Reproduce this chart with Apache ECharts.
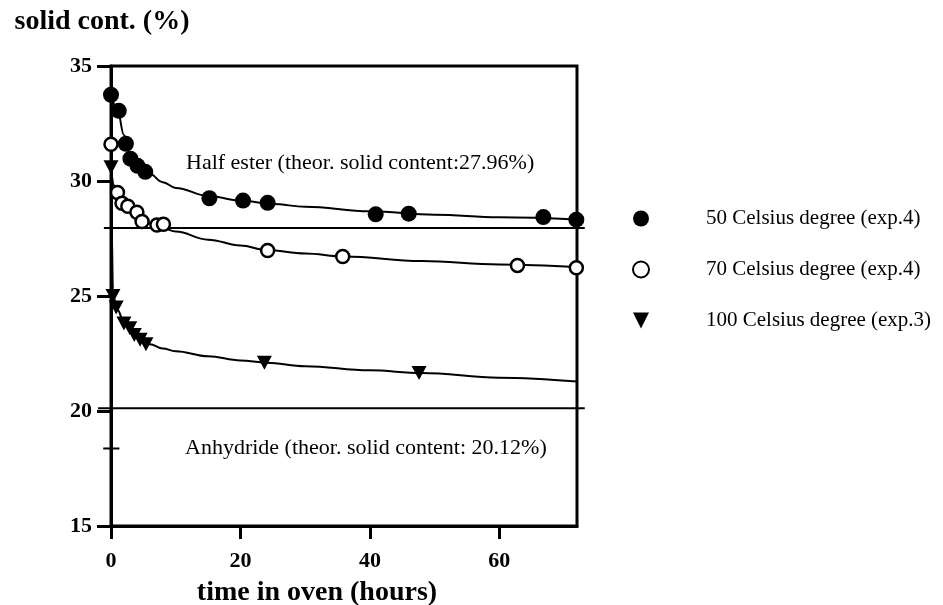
<!DOCTYPE html>
<html><head><meta charset="utf-8">
<script src="https://cdn.jsdelivr.net/npm/echarts@6/dist/echarts.min.js"></script>
<style>html,body{margin:0;padding:0;background:#fff}#c{width:943px;height:605px}</style>
</head><body><div id="c"></div>
<script>
// ---- data ----
const xTicks = [0, 20, 40, 60];
const yTicks = [15, 20, 25, 30, 35];

const t50 = [0, 1.2, 2.3, 3.0, 4.1, 5.3, 15.2, 20.4, 24.2, 40.9, 46.0, 66.8, 71.9];
const v50 = [33.75, 33.05, 31.62, 30.97, 30.66, 30.4, 29.25, 29.15, 29.05, 28.55, 28.58, 28.43, 28.32];

const t70 = [0, 1.0, 1.7, 2.6, 4.0, 4.8, 7.1, 8.1, 24.2, 35.8, 62.8, 71.9];
const v70 = [31.6, 29.5, 29.03, 28.9, 28.64, 28.24, 28.09, 28.12, 26.98, 26.72, 26.33, 26.23];

const t100 = [0, 0.3, 0.8, 2.0, 2.9, 3.6, 4.5, 5.4, 23.7, 47.6];
const v100 = [30.6, 25.0, 24.5, 23.8, 23.6, 23.3, 23.1, 22.9, 22.1, 21.65];

// fitted curves as drawn in the reference
const fit50x = [0, 1, 2, 3, 4, 5, 6, 8, 10, 15, 20, 25, 30, 40, 50, 60, 72];
const fit50y = [33.8, 33.1, 32.0, 31.1, 30.7, 30.45, 30.3, 29.95, 29.7, 29.35, 29.15, 29.0, 28.88, 28.68, 28.53, 28.42, 28.32];
const fit70x = [0.1, 0.5, 1, 2, 3, 4, 5, 6, 8, 10, 15, 20, 24, 30, 36, 48, 60, 72];
const fit70y = [30.3, 29.8, 29.45, 29.0, 28.75, 28.5, 28.3, 28.15, 27.95, 27.8, 27.45, 27.2, 27.0, 26.85, 26.72, 26.52, 26.37, 26.25];
const fit100x = [0, 0.1, 0.3, 0.6, 1, 2, 3, 4, 5, 6, 8, 10, 15, 20, 24, 30, 40, 48, 60, 72];
const fit100y = [30.6, 28, 25.3, 24.8, 24.4, 23.85, 23.5, 23.25, 23.05, 22.9, 22.72, 22.6, 22.38, 22.2, 22.1, 21.95, 21.77, 21.65, 21.45, 21.28];

// theoretical solid contents: [x start, x end, level]
const halfEsterLine = [-1.1, 73.2, 27.96];
const anhydrideLine = [-2.0, 73.2, 20.12];
const stubLine = [-1.2, 1.3, 18.37];

const names = ['50 Celsius degree (exp.4)', '70 Celsius degree (exp.4)', '100 Celsius degree (exp.3)'];
const notes = ['Half ester (theor. solid content:27.96%)', 'Anhydride (theor. solid content: 20.12%)'];

// ---- build ----
const zip = (a, b) => a.map((x, i) => [x, b[i]]);
const serif = 'Liberation Serif';
const tri = 'path://M0,0L10,0L5,10Z';
const lineStyle = { color: '#000', width: 2 };

function hLine(params, api) {
  const p1 = api.coord([api.value(0), api.value(2)]);
  const p2 = api.coord([api.value(1), api.value(2)]);
  return { type: 'line', shape: { x1: p1[0], y1: p1[1], x2: p2[0], y2: p2[1] },
           style: { stroke: '#000', lineWidth: 2 } };
}

const chart = echarts.init(document.getElementById('c'));
chart.setOption({
  animation: false,
  backgroundColor: '#fff',
  grid: { left: 111, top: 66, width: 466, height: 460, show: true, borderColor: '#000', borderWidth: 3,
          backgroundColor: 'transparent', containLabel: false, outerBoundsMode: 'none' },
  xAxis: {
    type: 'value', min: 0, max: 72, interval: 20,
    name: 'time in oven (hours)', nameLocation: 'middle', nameGap: 53,
    nameTextStyle: { fontFamily: serif, fontWeight: 'bold', fontSize: 28, color: '#000', padding: [0, 54, 0, 0] },
    axisLine: { lineStyle: { color: '#000', width: 3 } },
    axisTick: { show: true, length: 13, lineStyle: { color: '#000', width: 3 }, customValues: xTicks },
    axisLabel: { fontFamily: serif, fontWeight: 'bold', fontSize: 22, color: '#000', margin: 24, customValues: xTicks },
    splitLine: { show: false }
  },
  yAxis: {
    type: 'value', min: 15, max: 35, interval: 5,
    name: 'solid cont. (%)', nameLocation: 'end', nameGap: 30,
    nameTextStyle: { fontFamily: serif, fontWeight: 'bold', fontSize: 28, color: '#000', align: 'center', padding: [0, 18, 0, 0] },
    axisLine: { lineStyle: { color: '#000', width: 3 } },
    axisTick: { show: true, length: 14, lineStyle: { color: '#000', width: 3 }, customValues: yTicks },
    axisLabel: { fontFamily: serif, fontWeight: 'bold', fontSize: 22, color: '#000', margin: 19, customValues: yTicks },
    splitLine: { show: false }
  },
  legend: {
    orient: 'vertical', left: 632, top: 208, padding: 0, itemGap: 30, itemWidth: 16, itemHeight: 16,
    data: names,
    textStyle: { fontFamily: serif, fontSize: 21, color: '#000', lineHeight: 20, padding: [0, 0, 0, 52] }
  },
  graphic: [
    { type: 'text', left: 186, top: 152, style: { text: notes[0], font: '22px "Liberation Serif"', fill: '#000' } },
    { type: 'text', left: 185, top: 437, style: { text: notes[1], font: '22px "Liberation Serif"', fill: '#000' } }
  ],
  series: [
    { type: 'line', data: zip(fit50x, fit50y), showSymbol: false, smooth: 0.4, smoothMonotone: 'x', lineStyle, z: 2, silent: true },
    { type: 'line', data: zip(fit70x, fit70y), showSymbol: false, smooth: 0.4, smoothMonotone: 'x', lineStyle, z: 2, silent: true },
    { type: 'line', data: zip(fit100x, fit100y), showSymbol: false, smooth: 0.4, smoothMonotone: 'x', lineStyle, z: 2, silent: true },
    { type: 'custom', data: [halfEsterLine, anhydrideLine, stubLine], encode: { x: [0, 1], y: 2 },
      renderItem: hLine, clip: false, z: 2, silent: true },
    { name: names[0], type: 'scatter', data: zip(t50, v50), symbol: 'circle', symbolSize: 16, clip: false,
      itemStyle: { color: '#000', opacity: 1 }, z: 5 },
    { name: names[1], type: 'scatter', data: zip(t70, v70), symbol: 'circle', symbolSize: 13, clip: false,
      itemStyle: { color: '#fff', borderColor: '#000', borderWidth: 2.5, opacity: 1 }, z: 5 },
    { name: names[2], type: 'scatter', data: zip(t100, v100), symbol: tri, symbolSize: [15, 14], clip: false,
      itemStyle: { color: '#000', opacity: 1 }, z: 5 }
  ]
});
</script>
</body></html>
